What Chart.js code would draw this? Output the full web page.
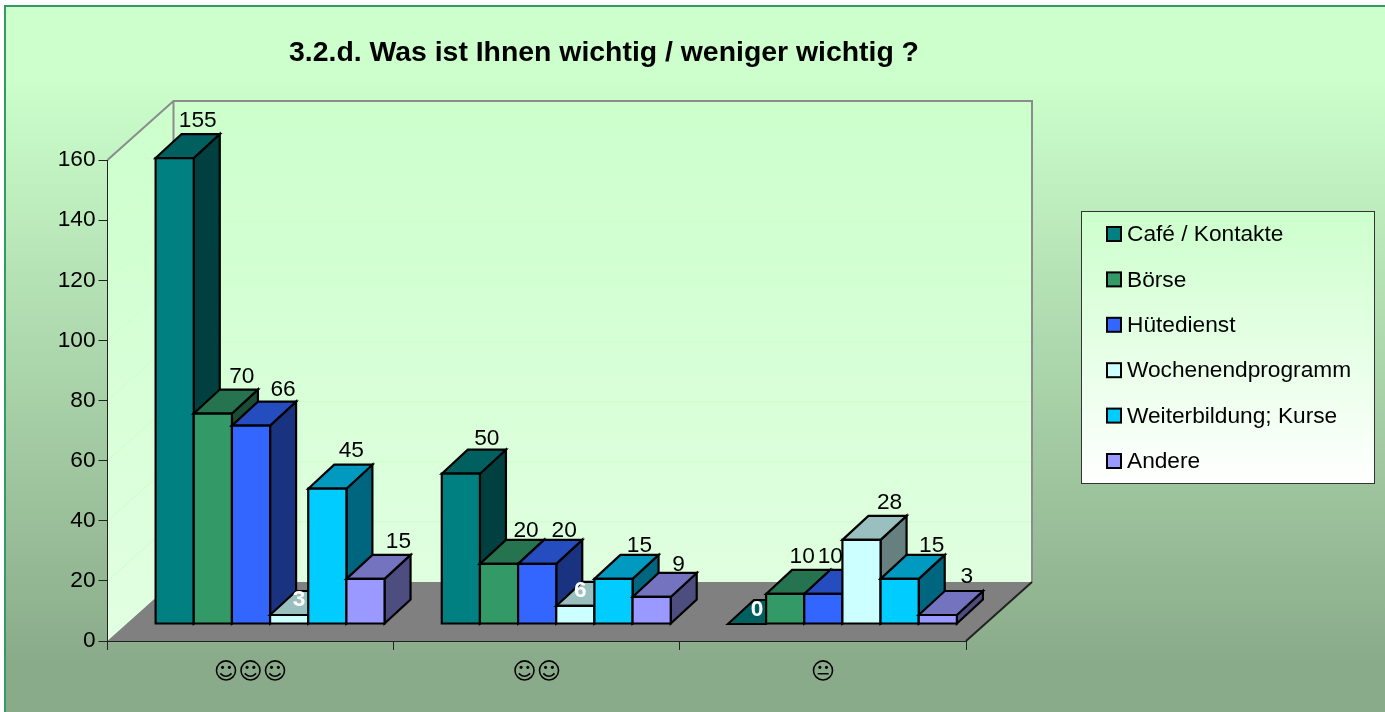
<!DOCTYPE html>
<html>
<head>
<meta charset="utf-8">
<style>
  html, body { margin: 0; padding: 0; background: #fff; }
  #box { position: relative; width: 1385px; height: 712px; }
</style>
<script src="https://cdn.jsdelivr.net/npm/chart.js@4"></script>
</head>
<body>
<div id="box"><canvas id="chart"></canvas></div>
<script>
const categories = ["\u263A\u263A\u263A", "\u263A\u263A", "\uD83D\uDE10"];
const seriesNames = ["Café / Kontakte", "Börse", "Hütedienst", "Wochenendprogramm", "Weiterbildung; Kurse", "Andere"];
const cafe = [155, 50, 0];
const boerse = [70, 20, 10];
const huete = [66, 20, 10];
const wochenende = [3, 6, 28];
const weiterbildung = [45, 15, 15];
const andere = [15, 9, 3];
const seriesValues = [cafe, boerse, huete, wochenende, weiterbildung, andere];
const yTicks = [0, 20, 40, 60, 80, 100, 120, 140, 160];

const fronts = ["#008080", "#339966", "#3366FF", "#CCFFFF", "#00CCFF", "#9999FF"];
const tops = ["#006060", "#267350", "#264DBF", "#99BFBF", "#0099BF", "#7373BF"];
const sides = ["#004040", "#1A4D33", "#1A3380", "#668080", "#006680", "#4D4D80"];

// label nudges from the bar's front top centre, per series and category
const labelDx = [[23, 26, 10], [29, 27, 17], [32, 27, 7], [10, 5, 28], [24, 26, 32], [33, 27, 29]];
const labelDy = [[-38, -36, -15], [-38, -34, -38], [-37, -34, -38], [-16, -16, -38], [-39, -34, -34], [-38, -33, -39]];
const whiteLabels = ["3,0", "3,1", "0,2"];

const FONT = "'Liberation Sans', Arial, sans-serif";
// 3d offsets in px
const WALL_DX = 66, WALL_DY = -59;
const SHIFT_X = 19.5, SHIFT_Y = -17;
const DEPTH_X = 26, DEPTH_Y = -24;
const EDGE = 2.2;

function poly(ctx, pts, fill, stroke, lw) {
  ctx.beginPath();
  pts.forEach((p, i) => (i ? ctx.lineTo(p[0], p[1]) : ctx.moveTo(p[0], p[1])));
  ctx.closePath();
  if (fill) { ctx.fillStyle = fill; ctx.fill(); }
  if (stroke) { ctx.strokeStyle = stroke; ctx.lineWidth = lw; ctx.lineJoin = "miter"; ctx.stroke(); }
}

const stagePlugin = {
  id: "stage",
  afterLayout(chart) {
    // title is centred over the plot plus walls, not the canvas
    const t = chart.titleBlock;
    t.left += 121; t.right += 121;
  },
  beforeDraw(chart) {
    const { ctx, width, height, chartArea: a, scales } = chart;
    ctx.save();
    ctx.fillStyle = "#fff";
    ctx.fillRect(0, 0, width, height);
    const bg = ctx.createLinearGradient(0, 6, 0, height);
    bg.addColorStop(0, "#CCFFCC");
    bg.addColorStop(0.1, "#CCFFCC");
    bg.addColorStop(0.93, "#8AAB8A");
    bg.addColorStop(1, "#8AAB8A");
    ctx.fillStyle = bg;
    ctx.fillRect(5, 6, width - 5, height - 6);
    ctx.strokeStyle = "#339966";
    ctx.lineWidth = 2;
    ctx.beginPath();
    ctx.moveTo(5, height);
    ctx.lineTo(5, 6);
    ctx.lineTo(width, 6);
    ctx.stroke();

    const L = a.left, R = a.right, T = a.top, B = a.bottom;
    const bx = L + WALL_DX, by = WALL_DY;
    const wall = ctx.createLinearGradient(0, T + by, 0, B);
    wall.addColorStop(0, "#CCFFCC");
    wall.addColorStop(1, "#E2FFE2");
    poly(ctx, [[L, T], [bx, T + by], [bx, B + by], [L, B]], wall);
    poly(ctx, [[bx, T + by], [R + WALL_DX, T + by], [R + WALL_DX, B + by], [bx, B + by]], wall);
    poly(ctx, [[L, B], [bx, B + by], [R + WALL_DX, B + by], [R, B]], "#808080");

    // gridlines on both walls
    ctx.strokeStyle = "#CCFFCC";
    ctx.lineWidth = 1;
    yTicks.slice(1, -1).forEach(v => {
      const y = scales.y.getPixelForValue(v);
      ctx.beginPath();
      ctx.moveTo(L, y);
      ctx.lineTo(bx, y + by);
      ctx.lineTo(R + WALL_DX, y + by);
      ctx.stroke();
    });

    ctx.strokeStyle = "#8C8C8C";
    ctx.lineWidth = 2;
    ctx.beginPath();
    ctx.moveTo(L, T);
    ctx.lineTo(bx, T + by);
    ctx.lineTo(R + WALL_DX, T + by);
    ctx.lineTo(R + WALL_DX, B + by);
    ctx.moveTo(bx, T + by);
    ctx.lineTo(bx, B + by);
    ctx.stroke();
    ctx.strokeStyle = "#222";
    ctx.beginPath();
    ctx.moveTo(R + WALL_DX, B + by);
    ctx.lineTo(R, B);
    ctx.stroke();
    ctx.restore();
  },
  // bars go left to right so each one covers the side of the previous one
  beforeDatasetsDraw(chart) {
    const { ctx } = chart;
    ctx.save();
    ctx.translate(SHIFT_X, SHIFT_Y);
    seriesValues.forEach((vals, s) => {
      chart.getDatasetMeta(s).data.forEach(bar => {
        const x0 = bar.x - bar.width / 2, x1 = bar.x + bar.width / 2;
        const yT = bar.y, yB = bar.base;
        const dx = DEPTH_X, dy = DEPTH_Y;
        if (yB - yT > 0) {
          poly(ctx, [[x1, yT], [x1 + dx, yT + dy], [x1 + dx, yB + dy], [x1, yB]], sides[s], "#000", EDGE);
        }
        poly(ctx, [[x0, yT], [x0 + dx, yT + dy], [x1 + dx, yT + dy], [x1, yT]], tops[s], "#000", EDGE);
        if (yB - yT > 0) {
          bar.draw(ctx);
          poly(ctx, [[x0, yT], [x1, yT], [x1, yB], [x0, yB]], null, "#000", EDGE);
        }
      });
    });
    ctx.restore();

    // data labels
    ctx.save();
    ctx.textAlign = "center";
    ctx.textBaseline = "middle";
    seriesValues.forEach((vals, s) => {
      chart.getDatasetMeta(s).data.forEach((bar, c) => {
        const white = whiteLabels.includes(s + "," + c);
        const x = bar.x + SHIFT_X + labelDx[s][c], y = bar.y + SHIFT_Y + labelDy[s][c] + 1;
        ctx.font = (white ? "bold " : "") + "22.7px " + FONT;
        ctx.fillStyle = white ? "#FFFFFF" : "#000";
        ctx.fillText(String(vals[c]), x, y);
      });
    });
    ctx.restore();

    // legend box
    ctx.save();
    const lx = 1081, ly = 211, lw = 294, lh = 273;
    const lg = ctx.createLinearGradient(0, ly, 0, ly + lh);
    lg.addColorStop(0, "#CCFFCC");
    lg.addColorStop(1, "#FFFFFF");
    ctx.fillStyle = lg;
    ctx.fillRect(lx, ly, lw, lh);
    ctx.strokeStyle = "#333";
    ctx.lineWidth = 1;
    ctx.strokeRect(lx + 0.5, ly + 0.5, lw - 1, lh - 1);
    ctx.textBaseline = "middle";
    ctx.textAlign = "left";
    ctx.font = "22.7px " + FONT;
    seriesNames.forEach((name, s) => {
      const y = 234 + s * 45.4;
      ctx.fillStyle = fronts[s];
      ctx.fillRect(1107, y - 7, 14, 14);
      ctx.strokeStyle = "#000";
      ctx.lineWidth = 2;
      ctx.strokeRect(1107, y - 7, 14, 14);
      ctx.fillStyle = "#000";
      ctx.fillText(name, 1127, y + 1);
    });
    ctx.restore();
    return false;
  },
};

new Chart(document.getElementById("chart"), {
  type: "bar",
  data: {
    labels: categories,
    datasets: seriesNames.map((name, s) => ({
      label: name,
      data: seriesValues[s],
      backgroundColor: fronts[s],
      borderWidth: 0,
    })),
  },
  options: {
    responsive: true,
    maintainAspectRatio: false,
    animation: false,
    events: [],
    layout: { padding: { left: 0, right: 419, top: 0, bottom: 0 } },
    datasets: { bar: { categoryPercentage: 0.8, barPercentage: 1 } },
    plugins: {
      legend: { display: false },
      tooltip: { enabled: false },
      title: {
        display: true,
        text: "3.2.d. Was ist Ihnen wichtig / weniger wichtig ?",
        color: "#000",
        font: { family: FONT, size: 28.4, weight: "bold", lineHeight: 1.2 },
        padding: { top: 36, bottom: 89.92 },
      },
    },
    scales: {
      x: {
        grid: { drawOnChartArea: false, color: "#222", tickLength: 9, tickWidth: 1 },
        border: { color: "#222", width: 1 },
        ticks: { color: "#000", font: { family: "'DejaVu Sans'", size: 23.5 }, padding: 9, maxRotation: 0 },
        afterFit(scale) { scale.height = 71; },
      },
      y: {
        min: 0,
        max: 160,
        grid: { drawOnChartArea: false, color: "#222", tickLength: 9, tickWidth: 1 },
        border: { color: "#222", width: 1 },
        ticks: { color: "#000", font: { family: FONT, size: 22.7 }, padding: 3, stepSize: 20 },
        afterFit(scale) { scale.width = 107.5; },
      },
    },
  },
  plugins: [stagePlugin],
});
</script>
</body>
</html>
